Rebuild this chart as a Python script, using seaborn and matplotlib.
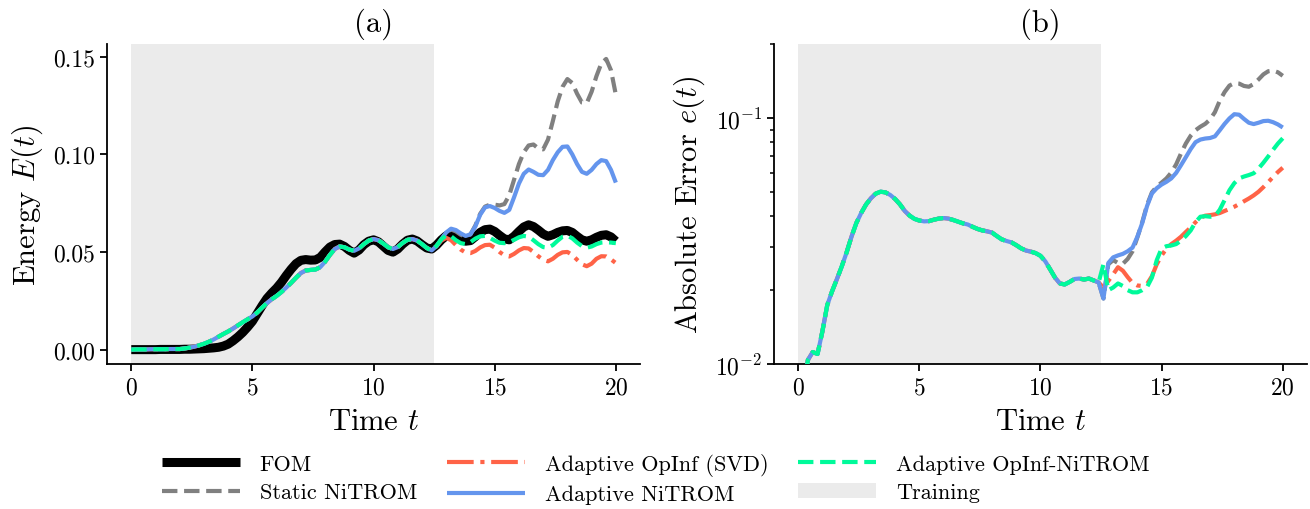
import numpy as np
import pandas as pd
import matplotlib
matplotlib.use("Agg")
import matplotlib.pyplot as plt
from matplotlib.patches import Patch
import seaborn as sns

# ---------------------------------------------------------------- data
time = np.round(np.arange(0.0, 20.0001, 0.2), 1)
t_train_end = 12.5

# Full-order model energy, t = 0 ... 20
energy_fom = [
    0.0000, 0.0000, 0.0000, 0.0000, 0.0000, 0.0000, 0.0001, 0.0001, 0.0001, 0.0001,
    0.0001, 0.0002, 0.0002, 0.0003, 0.0004, 0.0005, 0.0007, 0.0009, 0.0012, 0.0018,
    0.0028, 0.0045, 0.0065, 0.0088, 0.0115, 0.0145, 0.0185, 0.0225, 0.0262, 0.0290,
    0.0315, 0.0345, 0.0380, 0.0412, 0.0440, 0.0457, 0.0461, 0.0458, 0.0459, 0.0472,
    0.0500, 0.0525, 0.0538, 0.0540, 0.0528, 0.0508, 0.0494, 0.0510, 0.0537, 0.0555,
    0.0562, 0.0552, 0.0530, 0.0508, 0.0499, 0.0515, 0.0540, 0.0560, 0.0566, 0.0556,
    0.0537, 0.0520, 0.0515, 0.0535, 0.0562, 0.0583, 0.0593, 0.0585, 0.0568, 0.0555,
    0.0558, 0.0578, 0.0600, 0.0614, 0.0617, 0.0605, 0.0585, 0.0567, 0.0562, 0.0580,
    0.0605, 0.0628, 0.0639, 0.0630, 0.0612, 0.0592, 0.0580, 0.0588, 0.0600, 0.0608,
    0.0610, 0.0600, 0.0580, 0.0562, 0.0555, 0.0562, 0.0575, 0.0585, 0.0588, 0.0577,
    0.0555,
]

# ROM energy over the training window (identical for all reduced models), t = 0 ... 12.4
energy_rom_train = [
    0.0000, 0.0001, 0.0001, 0.0001, 0.0002, 0.0002, 0.0002, 0.0002, 0.0003, 0.0003,
    0.0003, 0.0006, 0.0010, 0.0015, 0.0022, 0.0030, 0.0040, 0.0052, 0.0066, 0.0080,
    0.0093, 0.0108, 0.0124, 0.0140, 0.0155, 0.0170, 0.0190, 0.0215, 0.0238, 0.0258,
    0.0275, 0.0295, 0.0318, 0.0342, 0.0368, 0.0392, 0.0405, 0.0408, 0.0410, 0.0422,
    0.0450, 0.0485, 0.0515, 0.0528, 0.0524, 0.0512, 0.0506, 0.0518, 0.0540, 0.0558,
    0.0566, 0.0560, 0.0543, 0.0524, 0.0515, 0.0525, 0.0546, 0.0562, 0.0566, 0.0558,
    0.0540, 0.0520, 0.0508,
]

# ROM energy after training, t = 12.6 ... 20
energy_static_nitrom = [
    0.0530, 0.0565, 0.0598, 0.0615, 0.0605, 0.0588, 0.0578, 0.0590, 0.0635, 0.0695,
    0.0732, 0.0742, 0.0742, 0.0738, 0.0745, 0.0790, 0.0870, 0.0950, 0.1010, 0.1045,
    0.1050, 0.1030, 0.1025, 0.1075, 0.1170, 0.1270, 0.1345, 0.1385, 0.1365, 0.1310,
    0.1265, 0.1262, 0.1320, 0.1400, 0.1465, 0.1488, 0.1430, 0.1305,
]
energy_opinf_svd = [
    0.0530, 0.0558, 0.0572, 0.0560, 0.0535, 0.0512, 0.0497, 0.0494, 0.0505, 0.0523,
    0.0535, 0.0537, 0.0522, 0.0500, 0.0482, 0.0477, 0.0490, 0.0508, 0.0520, 0.0518,
    0.0500, 0.0478, 0.0460, 0.0452, 0.0465, 0.0485, 0.0498, 0.0500, 0.0485, 0.0460,
    0.0437, 0.0427, 0.0440, 0.0465, 0.0478, 0.0477, 0.0462, 0.0443,
]
energy_adaptive_nitrom = [
    0.0530, 0.0565, 0.0600, 0.0619, 0.0612, 0.0595, 0.0582, 0.0590, 0.0630, 0.0690,
    0.0728, 0.0735, 0.0725, 0.0710, 0.0700, 0.0715, 0.0780, 0.0850, 0.0900, 0.0922,
    0.0910, 0.0895, 0.0893, 0.0920, 0.0970, 0.1010, 0.1038, 0.1040, 0.1000, 0.0950,
    0.0910, 0.0900, 0.0920, 0.0950, 0.0970, 0.0965, 0.0920, 0.0855,
]
energy_opinf_nitrom = [
    0.0532, 0.0565, 0.0585, 0.0580, 0.0560, 0.0545, 0.0540, 0.0550, 0.0568, 0.0580,
    0.0582, 0.0572, 0.0558, 0.0547, 0.0545, 0.0550, 0.0562, 0.0575, 0.0582, 0.0578,
    0.0560, 0.0540, 0.0525, 0.0522, 0.0535, 0.0558, 0.0578, 0.0583, 0.0570, 0.0548,
    0.0530, 0.0522, 0.0528, 0.0540, 0.0548, 0.0550, 0.0548, 0.0545,
]

# Absolute error over the training window (identical for all reduced models), t = 0 ... 12.4
error_rom_train = [
    0.0040, 0.0075, 0.0104, 0.0112, 0.0110, 0.0136, 0.0174, 0.0198, 0.0222, 0.0250,
    0.0285, 0.0330, 0.0375, 0.0412, 0.0446, 0.0473, 0.0494, 0.0503, 0.0500, 0.0488,
    0.0470, 0.0447, 0.0420, 0.0402, 0.0390, 0.0384, 0.0381, 0.0382, 0.0387, 0.0391,
    0.0393, 0.0391, 0.0386, 0.0380, 0.0374, 0.0370, 0.0362, 0.0355, 0.0350, 0.0347,
    0.0343, 0.0332, 0.0322, 0.0317, 0.0313, 0.0305, 0.0296, 0.0290, 0.0287, 0.0283,
    0.0276, 0.0262, 0.0243, 0.0225, 0.0213, 0.0211, 0.0216, 0.0222, 0.0223, 0.0221,
    0.0223, 0.0219, 0.0215,
]

# Absolute error after training, t = 12.6 ... 20
error_static_nitrom = [
    0.0185, 0.0255, 0.0265, 0.0258, 0.0256, 0.0268, 0.0288, 0.0328, 0.0378, 0.0445,
    0.0500, 0.0528, 0.0548, 0.0570, 0.0602, 0.0650, 0.0720, 0.0790, 0.0850, 0.0895,
    0.0925, 0.0950, 0.0990, 0.1060, 0.1180, 0.1280, 0.1360, 0.1390, 0.1385, 0.1355,
    0.1345, 0.1380, 0.1440, 0.1510, 0.1555, 0.1565, 0.1540, 0.1490,
]
error_opinf_svd = [
    0.0205, 0.0218, 0.0232, 0.0248, 0.0240, 0.0226, 0.0214, 0.0209, 0.0208, 0.0212,
    0.0228, 0.0255, 0.0277, 0.0295, 0.0308, 0.0318, 0.0330, 0.0345, 0.0360, 0.0378,
    0.0394, 0.0402, 0.0404, 0.0407, 0.0412, 0.0420, 0.0428, 0.0437, 0.0448, 0.0460,
    0.0472, 0.0486, 0.0503, 0.0525, 0.0550, 0.0578, 0.0605, 0.0630,
]
error_adaptive_nitrom = [
    0.0185, 0.0258, 0.0272, 0.0277, 0.0281, 0.0288, 0.0298, 0.0330, 0.0375, 0.0440,
    0.0495, 0.0520, 0.0538, 0.0552, 0.0570, 0.0600, 0.0645, 0.0695, 0.0750, 0.0800,
    0.0820, 0.0828, 0.0832, 0.0845, 0.0895, 0.0950, 0.1000, 0.1040, 0.1035, 0.0995,
    0.0960, 0.0948, 0.0960, 0.0975, 0.0978, 0.0965, 0.0945, 0.0918,
]
error_opinf_nitrom = [
    0.0255, 0.0200, 0.0205, 0.0213, 0.0208, 0.0200, 0.0196, 0.0196, 0.0200, 0.0206,
    0.0225, 0.0265, 0.0296, 0.0302, 0.0304, 0.0308, 0.0318, 0.0332, 0.0350, 0.0378,
    0.0398, 0.0400, 0.0398, 0.0400, 0.0425, 0.0465, 0.0510, 0.0545, 0.0570, 0.0580,
    0.0588, 0.0598, 0.0625, 0.0660, 0.0700, 0.0745, 0.0790, 0.0830,
]

models = ["Static NiTROM", "Adaptive OpInf (SVD)", "Adaptive NiTROM", "Adaptive OpInf-NiTROM"]
energy_after = [energy_static_nitrom, energy_opinf_svd, energy_adaptive_nitrom, energy_opinf_nitrom]
error_after = [error_static_nitrom, error_opinf_svd, error_adaptive_nitrom, error_opinf_nitrom]

# ---------------------------------------------------------------- style
sns.set_theme(style="ticks")
plt.rcParams.update({
    "font.family": ["cmr10", "DejaVu Serif"],
    "mathtext.fontset": "cm",
    "axes.formatter.use_mathtext": True,
    "axes.unicode_minus": False,
    "axes.linewidth": 1.3,
    "xtick.major.width": 1.3,
    "ytick.major.width": 1.3,
    "ytick.minor.width": 1.1,
    "xtick.major.size": 5,
    "ytick.major.size": 5,
    "ytick.minor.size": 3,
    "xtick.color": "black",
    "ytick.color": "black",
    "axes.edgecolor": "black",
    "text.color": "black",
    "axes.labelcolor": "black",
})

styles = {
    "FOM": dict(color="black", lw=6.5, ls="-"),
    "Static NiTROM": dict(color="gray", lw=3, ls="--"),
    "Adaptive OpInf (SVD)": dict(color="tomato", lw=3, ls="-."),
    "Adaptive NiTROM": dict(color="cornflowerblue", lw=3, ls="-"),
    "Adaptive OpInf-NiTROM": dict(color="mediumspringgreen", lw=3, ls="--"),
}
train_color = "#ebebeb"

# long-form tables
rows = [pd.DataFrame({"time": time, "value": energy_fom, "model": "FOM", "panel": "energy"})]
for name, e_after, r_after in zip(models, energy_after, error_after):
    rows.append(pd.DataFrame({"time": time, "value": energy_rom_train + e_after,
                              "model": name, "panel": "energy"}))
    rows.append(pd.DataFrame({"time": time, "value": error_rom_train + r_after,
                              "model": name, "panel": "error"}))
df = pd.concat(rows, ignore_index=True)

fig = plt.figure(figsize=(13.1, 5.1), dpi=100)
ax1 = fig.add_axes([0.0817, 0.284, 0.4069, 0.627])
ax2 = fig.add_axes([0.5908, 0.284, 0.4069, 0.627])

for ax, panel in [(ax1, "energy"), (ax2, "error")]:
    ax.axvspan(0, t_train_end, color=train_color, lw=0, zorder=0)
    sub = df[df.panel == panel]
    for name in ["FOM"] + models:
        d = sub[sub.model == name]
        if d.empty:
            continue
        st = styles[name]
        sns.lineplot(data=d, x="time", y="value", ax=ax, color=st["color"],
                     lw=st["lw"], linestyle=st["ls"], label=name, legend=False,
                     solid_capstyle="butt", dash_capstyle="butt", zorder=3)

ax2.set_yscale("log")
ax2.set_ylim(1e-2, 2e-1)
ax1.set_xlim(-1, 21)
ax2.set_xlim(-1, 21)
for ax in (ax1, ax2):
    ax.set_xticks([0, 5, 10, 15, 20])
    ax.tick_params(labelsize=17)
    ax.set_xlabel(r"Time $t$", fontsize=22, labelpad=7)
ax1.set_yticks([0.0, 0.05, 0.10, 0.15])
ax1.set_yticklabels(["0.00", "0.05", "0.10", "0.15"])
ax1.set_ylabel(r"Energy $E(t)$", fontsize=22, labelpad=6)
ax2.set_ylabel(r"Absolute Error $e(t)$", fontsize=22, labelpad=6)
ax1.set_title("(a)", fontsize=22, pad=10)
ax2.set_title("(b)", fontsize=22, pad=10)
sns.despine(fig=fig)

# legend: five curves plus the training window
handles, labels = ax1.get_legend_handles_labels()
order = ["FOM", "Static NiTROM", "Adaptive OpInf (SVD)", "Adaptive NiTROM", "Adaptive OpInf-NiTROM"]
hmap = dict(zip(labels, handles))
leg_handles = [hmap[k] for k in order] + [Patch(facecolor=train_color, edgecolor="none")]
leg_labels = order + ["Training"]
fig.legend(leg_handles, leg_labels, ncol=3, loc="lower center",
           bbox_to_anchor=(0.5006, -0.03), frameon=False, fontsize=16,
           handlelength=3.5, handletextpad=0.9, columnspacing=1.35, labelspacing=0.4)

fig.savefig("out.png", dpi=100)
